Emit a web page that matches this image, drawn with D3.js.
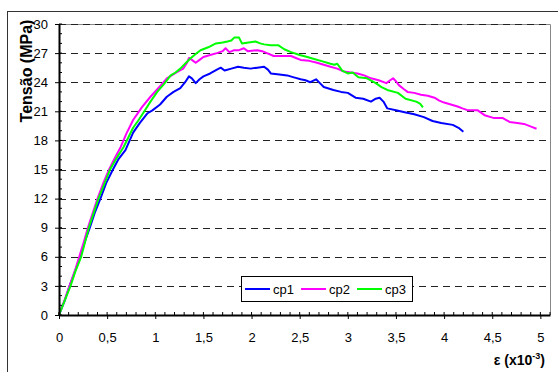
<!DOCTYPE html>
<html lang="en">
<head>
    <meta charset="UTF-8">
    <script src="https://cdnjs.cloudflare.com/ajax/libs/d3/7.8.5/d3.min.js" type="text/JavaScript"></script>
    <title>Tensão x deformação</title>
    <style>
        body { margin: 0; background: #fff; }
        svg { display: block; font-family: 'Liberation Sans', Arial, sans-serif; }
    </style>
</head>
<body>
    <svg width="558" height="372"></svg>

    <script>
        // [deformação (x10^-3), tensão (MPa)]
        var cp1 = [[0,0],[0.06,1.5],[0.11,3],[0.17,4.6],[0.22,6],[0.27,7.6],[0.32,9],[0.37,10.5],[0.43,12],[0.49,13.6],[0.56,15],[0.62,16.1],[0.69,17.0],[0.77,18.8],[0.84,19.8],[0.92,20.8],[0.97,21.1],[1.05,21.7],[1.12,22.5],[1.19,23.0],[1.26,23.4],[1.31,24.0],[1.35,24.6],[1.38,24.4],[1.42,23.9],[1.46,24.3],[1.50,24.6],[1.57,24.9],[1.64,25.3],[1.68,25.5],[1.72,25.2],[1.79,25.4],[1.86,25.6],[1.92,25.5],[1.99,25.4],[2.06,25.5],[2.13,25.6],[2.17,25.3],[2.20,24.9],[2.29,24.8],[2.37,24.7],[2.44,24.5],[2.51,24.3],[2.56,24.2],[2.61,24.0],[2.67,24.3],[2.71,23.9],[2.75,23.5],[2.85,23.2],[2.93,23.0],[3.0,22.9],[3.08,22.4],[3.16,22.3],[3.24,22.0],[3.29,22.3],[3.33,22.4],[3.37,22.0],[3.41,21.3],[3.5,21.1],[3.59,20.9],[3.69,20.7],[3.79,20.4],[3.88,20.0],[3.97,19.8],[4.09,19.6],[4.15,19.3],[4.20,18.9]];
        var cp2 = [[0,0],[0.06,1.6],[0.11,3],[0.17,4.7],[0.22,6.3],[0.26,7.6],[0.3,9],[0.35,10.5],[0.4,12],[0.46,13.6],[0.52,15],[0.58,16.2],[0.64,17.3],[0.70,18.7],[0.77,20.1],[0.86,21.4],[0.95,22.5],[1.05,23.6],[1.12,24.4],[1.22,25.0],[1.29,25.4],[1.33,26.0],[1.35,26.5],[1.38,26.3],[1.42,26.0],[1.46,26.3],[1.50,26.6],[1.57,26.8],[1.64,27.0],[1.70,27.2],[1.73,27.5],[1.77,27.1],[1.82,27.3],[1.87,27.3],[1.92,27.5],[1.96,27.2],[2.06,27.3],[2.11,27.2],[2.16,27.0],[2.23,26.7],[2.32,26.7],[2.41,26.7],[2.46,26.5],[2.51,26.3],[2.6,26.2],[2.68,26.0],[2.75,25.8],[2.82,25.6],[2.89,25.4],[2.96,25.1],[3.03,25.0],[3.10,24.9],[3.17,24.7],[3.24,24.4],[3.32,24.2],[3.40,23.9],[3.44,24.2],[3.47,24.4],[3.50,24.1],[3.53,23.7],[3.58,23.3],[3.62,23.0],[3.69,22.9],[3.76,22.7],[3.83,22.6],[3.90,22.4],[3.95,22.1],[4.0,21.9],[4.07,21.7],[4.14,21.5],[4.19,21.3],[4.25,21.1],[4.35,21.1],[4.42,20.6],[4.52,20.3],[4.61,20.3],[4.68,19.9],[4.76,19.8],[4.83,19.7],[4.91,19.4],[4.96,19.2]];
        var cp3 = [[0,0],[0.06,1.5],[0.12,3],[0.17,4.5],[0.23,6],[0.27,7.5],[0.31,9],[0.36,10.5],[0.41,12],[0.47,13.5],[0.53,15],[0.60,16.2],[0.67,17.3],[0.72,18.3],[0.77,19.3],[0.82,20.0],[0.88,20.9],[0.95,22.0],[1.02,23.0],[1.09,23.8],[1.16,24.7],[1.21,25.0],[1.26,25.4],[1.32,26.0],[1.37,26.5],[1.42,26.9],[1.47,27.3],[1.55,27.6],[1.63,28.0],[1.70,28.1],[1.75,28.2],[1.79,28.3],[1.82,28.6],[1.87,28.6],[1.90,28.0],[1.97,28.1],[2.04,28.2],[2.09,28.0],[2.13,27.9],[2.2,27.8],[2.28,27.8],[2.34,27.4],[2.41,27.1],[2.5,26.8],[2.58,26.6],[2.65,26.4],[2.72,26.2],[2.82,25.9],[2.86,25.8],[2.89,25.9],[2.92,25.5],[2.94,25.2],[3.0,24.9],[3.05,25.0],[3.11,24.5],[3.2,24.4],[3.29,23.9],[3.35,23.5],[3.41,23.2],[3.52,22.9],[3.60,22.3],[3.71,22.0],[3.75,21.8],[3.78,21.4]];

        var seriesNames = ["cp1", "cp2", "cp3"];
        var seriesColors = ["#0000ff", "#ff00ff", "#00ff00"];
        var xTicks = [0, 0.5, 1, 1.5, 2, 2.5, 3, 3.5, 4, 4.5, 5];
        var yTicks = [0, 3, 6, 9, 12, 15, 18, 21, 24, 27, 30];

        drawChart();

        function drawChart() {
            var svg = d3.select("svg");
            var pLeft = 59, pRight = 550, pTop = 24, pBottom = 315;

            var x = d3.scaleLinear().domain([0, 5.1]).range([pLeft, pRight]);
            var y = d3.scaleLinear().domain([0, 30]).range([pBottom, pTop]);
            var fmt = d => String(d).replace(".", ",");

            // outer chart frame (right and bottom fall outside the picture)
            svg.append("rect")
                .attr("x", 7.5).attr("y", 11.5)
                .attr("width", 600).attr("height", 400)
                .style("fill", "#fff").style("stroke", "#333").style("stroke-width", 1);

            // plot border top + right
            svg.append("path")
                .attr("d", "M" + pLeft + "," + (pTop + 0.5) + "H" + (pRight + 0.5) + "V" + pBottom)
                .style("fill", "none").style("stroke", "#888").style("stroke-width", 1);

            // dashed grid
            svg.append("g")
                .selectAll("line")
                .data(yTicks.filter(d => d > 0))
                .enter()
                .append("line")
                    .attr("x1", pLeft).attr("x2", pRight)
                    .attr("y1", d => Math.round(y(d)) + 0.5)
                    .attr("y2", d => Math.round(y(d)) + 0.5)
                    .style("stroke", "#222")
                    .style("stroke-dasharray", "7,5");

            // curves
            var line = d3.line().x(d => x(d[0])).y(d => y(d[1]));
            [cp1, cp2, cp3].forEach(function(s, i) {
                svg.append("path")
                    .datum(s)
                    .attr("d", line)
                    .style("fill", "none")
                    .style("stroke", seriesColors[i])
                    .style("stroke-width", 2)
                    .style("stroke-linejoin", "round");
            });

            // x axis
            var xAxis = svg.append("g").attr("transform", "translate(0," + pBottom + ")");
            xAxis.call(d3.axisBottom(x).tickValues(xTicks).tickSize(4).tickSizeOuter(0).tickFormat(fmt));
            xAxis.append("g")
                .selectAll("line")
                .data(d3.range(0, 52).map(d => d / 10))
                .enter()
                .append("line")
                    .attr("x1", d => x(d)).attr("x2", d => x(d))
                    .attr("y1", 0).attr("y2", -3)
                    .style("stroke", "#000");

            // y axis
            var yAxis = svg.append("g").attr("transform", "translate(" + pLeft + ",0)");
            yAxis.call(d3.axisLeft(y).tickValues(yTicks).tickSize(4).tickSizeOuter(0).tickPadding(7));
            yAxis.append("g")
                .selectAll("line")
                .data(d3.range(0, 31))
                .enter()
                .append("line")
                    .attr("x1", 0).attr("x2", 3)
                    .attr("y1", d => y(d)).attr("y2", d => y(d))
                    .style("stroke", "#000");

            svg.selectAll(".domain").style("stroke", "#000").style("stroke-width", 2);
            svg.selectAll(".tick line").style("stroke", "#000");
            svg.selectAll(".tick text").style("font-family", "'Liberation Sans', Arial, sans-serif")
                .style("font-size", "13px").style("fill", "#000");
            xAxis.selectAll(".tick text").attr("dy", "1.55em");

            // axis titles
            svg.append("text")
                .attr("transform", "translate(32,71) rotate(-90)")
                .attr("text-anchor", "middle")
                .style("font-weight", "bold").style("font-size", "16px")
                .text("Tensão (MPa)");

            var xt = svg.append("text")
                .attr("x", 545).attr("y", 365)
                .attr("text-anchor", "end")
                .style("font-weight", "bold").style("font-size", "14px");
            xt.append("tspan").text("ε (x10");
            xt.append("tspan").attr("dy", -6).style("font-size", "9px").text("-3");
            xt.append("tspan").attr("dy", 6).text(")");

            // legend
            var lg = svg.append("g").attr("transform", "translate(241,276)");
            lg.append("rect").attr("x", 0.5).attr("y", 0.5).attr("width", 171).attr("height", 25)
                .style("fill", "#fff").style("stroke", "#000");
            seriesNames.forEach(function(n, i) {
                var g = lg.append("g").attr("transform", "translate(" + (4 + i * 56) + ",13)");
                g.append("line").attr("x1", 0).attr("x2", 25)
                    .style("stroke", seriesColors[i]).style("stroke-width", 2);
                g.append("text").attr("x", 28).attr("y", 4.5)
                    .style("font-size", "13px").text(n);
            });
        }
    </script>
</body>
</html>
